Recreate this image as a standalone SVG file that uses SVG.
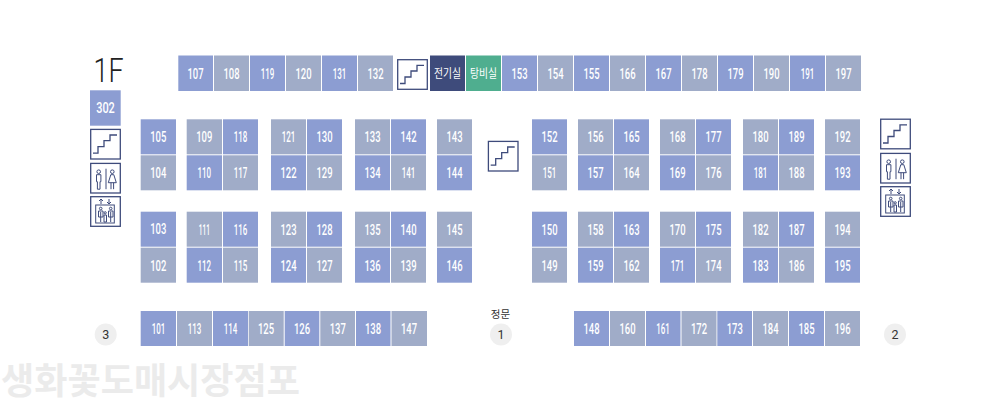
<svg xmlns="http://www.w3.org/2000/svg" width="1000" height="400" viewBox="0 0 1000 400">
<style>
text{font-family:Roboto,"Noto Sans CJK KR",sans-serif;text-anchor:middle}
.l{fill:#fff;font-size:14px;font-weight:500}
.k{fill:#fff;font-size:12px;font-family:"Noto Sans CJK KR",sans-serif}
.b{fill:#8c9dd2}.g{fill:#a0acc8}.d{fill:#3e4b7b}.t{fill:#4fae8f}
.i{fill:#fff;stroke:#3e4b7b;stroke-width:1.3}
.s{fill:none;stroke:#3e4b7b;stroke-width:1}
.n{fill:#efefef}
.m{fill:#333;font-size:12.500px}
.h{fill:#333;font-size:10.500px;font-family:"Noto Sans CJK KR",sans-serif}
</style>
<defs>
<g id="stair"><rect class="i" x=".7" y=".7" width="29.600" height="29.600"/><path class="s" style="stroke-width:1.300" d="M3 24.500H8V18H14V12H20V6.300H27"/></g>
<g id="wc"><rect class="i" x=".7" y=".7" width="29.600" height="29.600"/><path class="s" d="M16 6V26.500"/><circle class="s" cx="8.700" cy="9" r="1.800"/><path class="s" d="M6.500 12H10.900V19H10V26.500H7.400V19H6.500Z"/><circle class="s" cx="22.300" cy="9" r="1.800"/><path class="s" d="M20.800 12H23.800L26.300 20H18.300ZM21 20V26.500M23.600 20V26.500"/></g>
<g id="ev"><rect class="i" x=".7" y=".7" width="29.600" height="29.600"/><rect class="s" x="5.700" y="9" width="18.600" height="18"/><path class="s" d="M11 8V3M9 5L11 3L13 5M19 3V8M17 6L19 8L21 6M10.700 16V26M8.500 15H13V21H8.500ZM20.700 16V26M18.500 15H23V21H18.500ZM14 19H16.500V26H14Z"/><circle class="s" cx="10.700" cy="12.500" r="1.300"/><circle class="s" cx="15.200" cy="16.800" r="1.100"/><circle class="s" cx="20.700" cy="12.500" r="1.300"/></g>
</defs>
<text id="floor" x="108.500" y="81.500" textLength="30" lengthAdjust="spacingAndGlyphs" style="font-weight:300;font-size:34px;fill:#222">1F</text>
<g id="watermark"><text x="1" y="394" textLength="299" lengthAdjust="spacingAndGlyphs" style="text-anchor:start;font-family:'Noto Sans CJK KR',sans-serif;font-weight:700;font-size:36px;fill:#ebebeb">생화꽃도매시장점포</text></g>
<g id="cells">
<g id="r107"><rect class="b" x="178.300" y="55.500" width="34.700" height="35.500"/><text class="l" x="195.500" y="78.500" textLength="16.100" lengthAdjust="spacingAndGlyphs">107</text></g>
<g id="r108"><rect class="g" x="214" y="55.500" width="35" height="35.500"/><text class="l" x="231.500" y="78.500" textLength="16.100" lengthAdjust="spacingAndGlyphs">108</text></g>
<g id="r119"><rect class="b" x="250" y="55.500" width="35" height="35.500"/><text class="l" x="267.500" y="78.500" textLength="13.600" lengthAdjust="spacingAndGlyphs">119</text></g>
<g id="r120"><rect class="g" x="286" y="55.500" width="35" height="35.500"/><text class="l" x="303.500" y="78.500" textLength="16.100" lengthAdjust="spacingAndGlyphs">120</text></g>
<g id="r131"><rect class="b" x="322" y="55.500" width="35" height="35.500"/><text class="l" x="339.500" y="78.500" textLength="13.600" lengthAdjust="spacingAndGlyphs">131</text></g>
<g id="r132"><rect class="g" x="358" y="55.500" width="35" height="35.500"/><text class="l" x="375.500" y="78.500" textLength="16.100" lengthAdjust="spacingAndGlyphs">132</text></g>
<g id="r-elec"><rect class="d" x="430" y="55.500" width="35" height="35.500"/><text class="k" x="447.500" y="77.500" textLength="27" lengthAdjust="spacingAndGlyphs">전기실</text></g>
<g id="r-tea"><rect class="t" x="466" y="55.500" width="35" height="35.500"/><text class="k" x="483.500" y="77.500" textLength="27" lengthAdjust="spacingAndGlyphs">탕비실</text></g>
<g id="r153"><rect class="b" x="502" y="55.500" width="35" height="35.500"/><text class="l" x="519.500" y="78.500" textLength="16.100" lengthAdjust="spacingAndGlyphs">153</text></g>
<g id="r154"><rect class="g" x="538" y="55.500" width="35" height="35.500"/><text class="l" x="555.500" y="78.500" textLength="16.100" lengthAdjust="spacingAndGlyphs">154</text></g>
<g id="r155"><rect class="b" x="574" y="55.500" width="35" height="35.500"/><text class="l" x="591.500" y="78.500" textLength="16.100" lengthAdjust="spacingAndGlyphs">155</text></g>
<g id="r166"><rect class="g" x="610" y="55.500" width="35" height="35.500"/><text class="l" x="627.500" y="78.500" textLength="16.100" lengthAdjust="spacingAndGlyphs">166</text></g>
<g id="r167"><rect class="b" x="646" y="55.500" width="35" height="35.500"/><text class="l" x="663.500" y="78.500" textLength="16.100" lengthAdjust="spacingAndGlyphs">167</text></g>
<g id="r178"><rect class="g" x="682" y="55.500" width="35" height="35.500"/><text class="l" x="699.500" y="78.500" textLength="16.100" lengthAdjust="spacingAndGlyphs">178</text></g>
<g id="r179"><rect class="b" x="718" y="55.500" width="35" height="35.500"/><text class="l" x="735.500" y="78.500" textLength="16.100" lengthAdjust="spacingAndGlyphs">179</text></g>
<g id="r190"><rect class="g" x="754" y="55.500" width="35" height="35.500"/><text class="l" x="771.500" y="78.500" textLength="16.100" lengthAdjust="spacingAndGlyphs">190</text></g>
<g id="r191"><rect class="b" x="790" y="55.500" width="35" height="35.500"/><text class="l" x="807.500" y="78.500" textLength="13.600" lengthAdjust="spacingAndGlyphs">191</text></g>
<g id="r197"><rect class="g" x="826" y="55.500" width="35" height="35.500"/><text class="l" x="843.500" y="78.500" textLength="16.100" lengthAdjust="spacingAndGlyphs">197</text></g>
<g id="r302"><rect class="b" x="90" y="90.300" width="30.700" height="35.400"/><text class="l" x="105.500" y="112.500" textLength="18.600" lengthAdjust="spacingAndGlyphs">302</text></g>
<g id="r105"><rect class="b" x="140.700" y="119.300" width="35.300" height="35"/><text class="l" x="158.300" y="142" textLength="16.100" lengthAdjust="spacingAndGlyphs">105</text></g>
<g id="r104"><rect class="g" x="140.700" y="155.300" width="35.300" height="35"/><text class="l" x="158.300" y="178" textLength="16.100" lengthAdjust="spacingAndGlyphs">104</text></g>
<g id="r109"><rect class="g" x="186.700" y="119.300" width="35.300" height="35"/><text class="l" x="204.300" y="142" textLength="16.100" lengthAdjust="spacingAndGlyphs">109</text></g>
<g id="r118"><rect class="b" x="223" y="119.300" width="35" height="35"/><text class="l" x="240.500" y="142" textLength="13.600" lengthAdjust="spacingAndGlyphs">118</text></g>
<g id="r110"><rect class="b" x="186.700" y="155.300" width="35.300" height="35"/><text class="l" x="204.300" y="178" textLength="13.600" lengthAdjust="spacingAndGlyphs">110</text></g>
<g id="r117"><rect class="g" x="223" y="155.300" width="35" height="35"/><text class="l" x="240.500" y="178" textLength="13.600" lengthAdjust="spacingAndGlyphs">117</text></g>
<g id="r121"><rect class="g" x="271" y="119.300" width="35" height="35"/><text class="l" x="288.500" y="142" textLength="13.600" lengthAdjust="spacingAndGlyphs">121</text></g>
<g id="r130"><rect class="b" x="307" y="119.300" width="35" height="35"/><text class="l" x="324.500" y="142" textLength="16.100" lengthAdjust="spacingAndGlyphs">130</text></g>
<g id="r122"><rect class="b" x="271" y="155.300" width="35" height="35"/><text class="l" x="288.500" y="178" textLength="16.100" lengthAdjust="spacingAndGlyphs">122</text></g>
<g id="r129"><rect class="g" x="307" y="155.300" width="35" height="35"/><text class="l" x="324.500" y="178" textLength="16.100" lengthAdjust="spacingAndGlyphs">129</text></g>
<g id="r133"><rect class="g" x="355" y="119.300" width="35" height="35"/><text class="l" x="372.500" y="142" textLength="16.100" lengthAdjust="spacingAndGlyphs">133</text></g>
<g id="r142"><rect class="b" x="391" y="119.300" width="35" height="35"/><text class="l" x="408.500" y="142" textLength="16.100" lengthAdjust="spacingAndGlyphs">142</text></g>
<g id="r134"><rect class="b" x="355" y="155.300" width="35" height="35"/><text class="l" x="372.500" y="178" textLength="16.100" lengthAdjust="spacingAndGlyphs">134</text></g>
<g id="r141"><rect class="g" x="391" y="155.300" width="35" height="35"/><text class="l" x="408.500" y="178" textLength="13.600" lengthAdjust="spacingAndGlyphs">141</text></g>
<g id="r143"><rect class="g" x="437" y="119.300" width="35" height="35"/><text class="l" x="454.500" y="142" textLength="16.100" lengthAdjust="spacingAndGlyphs">143</text></g>
<g id="r144"><rect class="b" x="437" y="155.300" width="35" height="35"/><text class="l" x="454.500" y="178" textLength="16.100" lengthAdjust="spacingAndGlyphs">144</text></g>
<g id="r152"><rect class="b" x="532" y="119.300" width="35" height="35"/><text class="l" x="549.500" y="142" textLength="16.100" lengthAdjust="spacingAndGlyphs">152</text></g>
<g id="r151"><rect class="g" x="532" y="155.300" width="35" height="35"/><text class="l" x="549.500" y="178" textLength="13.600" lengthAdjust="spacingAndGlyphs">151</text></g>
<g id="r156"><rect class="g" x="578" y="119.300" width="35" height="35"/><text class="l" x="595.500" y="142" textLength="16.100" lengthAdjust="spacingAndGlyphs">156</text></g>
<g id="r165"><rect class="b" x="614" y="119.300" width="35" height="35"/><text class="l" x="631.500" y="142" textLength="16.100" lengthAdjust="spacingAndGlyphs">165</text></g>
<g id="r157"><rect class="b" x="578" y="155.300" width="35" height="35"/><text class="l" x="595.500" y="178" textLength="16.100" lengthAdjust="spacingAndGlyphs">157</text></g>
<g id="r164"><rect class="g" x="614" y="155.300" width="35" height="35"/><text class="l" x="631.500" y="178" textLength="16.100" lengthAdjust="spacingAndGlyphs">164</text></g>
<g id="r168"><rect class="g" x="660" y="119.300" width="35" height="35"/><text class="l" x="677.500" y="142" textLength="16.100" lengthAdjust="spacingAndGlyphs">168</text></g>
<g id="r177"><rect class="b" x="696" y="119.300" width="35" height="35"/><text class="l" x="713.500" y="142" textLength="16.100" lengthAdjust="spacingAndGlyphs">177</text></g>
<g id="r169"><rect class="b" x="660" y="155.300" width="35" height="35"/><text class="l" x="677.500" y="178" textLength="16.100" lengthAdjust="spacingAndGlyphs">169</text></g>
<g id="r176"><rect class="g" x="696" y="155.300" width="35" height="35"/><text class="l" x="713.500" y="178" textLength="16.100" lengthAdjust="spacingAndGlyphs">176</text></g>
<g id="r180"><rect class="g" x="743" y="119.300" width="35" height="35"/><text class="l" x="760.500" y="142" textLength="16.100" lengthAdjust="spacingAndGlyphs">180</text></g>
<g id="r189"><rect class="b" x="779" y="119.300" width="35" height="35"/><text class="l" x="796.500" y="142" textLength="16.100" lengthAdjust="spacingAndGlyphs">189</text></g>
<g id="r181"><rect class="b" x="743" y="155.300" width="35" height="35"/><text class="l" x="760.500" y="178" textLength="13.600" lengthAdjust="spacingAndGlyphs">181</text></g>
<g id="r188"><rect class="g" x="779" y="155.300" width="35" height="35"/><text class="l" x="796.500" y="178" textLength="16.100" lengthAdjust="spacingAndGlyphs">188</text></g>
<g id="r192"><rect class="g" x="825" y="119.300" width="35" height="35"/><text class="l" x="842.500" y="142" textLength="16.100" lengthAdjust="spacingAndGlyphs">192</text></g>
<g id="r193"><rect class="b" x="825" y="155.300" width="35" height="35"/><text class="l" x="842.500" y="178" textLength="16.100" lengthAdjust="spacingAndGlyphs">193</text></g>
<g id="r103"><rect class="b" x="140.700" y="211.700" width="35.300" height="35"/><text class="l" x="158.300" y="233.700" textLength="16.100" lengthAdjust="spacingAndGlyphs">103</text></g>
<g id="r102"><rect class="g" x="140.700" y="247.700" width="35.300" height="35"/><text class="l" x="158.300" y="270.700" textLength="16.100" lengthAdjust="spacingAndGlyphs">102</text></g>
<g id="r111"><rect class="g" x="186.700" y="211.700" width="35.300" height="35"/><text class="l" x="204.300" y="234.500" textLength="11.100" lengthAdjust="spacingAndGlyphs">111</text></g>
<g id="r116"><rect class="b" x="223" y="211.700" width="35" height="35"/><text class="l" x="240.500" y="234.500" textLength="13.600" lengthAdjust="spacingAndGlyphs">116</text></g>
<g id="r112"><rect class="b" x="186.700" y="247.700" width="35.300" height="35"/><text class="l" x="204.300" y="270.700" textLength="13.600" lengthAdjust="spacingAndGlyphs">112</text></g>
<g id="r115"><rect class="g" x="223" y="247.700" width="35" height="35"/><text class="l" x="240.500" y="270.700" textLength="13.600" lengthAdjust="spacingAndGlyphs">115</text></g>
<g id="r123"><rect class="g" x="271" y="211.700" width="35" height="35"/><text class="l" x="288.500" y="234.500" textLength="16.100" lengthAdjust="spacingAndGlyphs">123</text></g>
<g id="r128"><rect class="b" x="307" y="211.700" width="35" height="35"/><text class="l" x="324.500" y="234.500" textLength="16.100" lengthAdjust="spacingAndGlyphs">128</text></g>
<g id="r124"><rect class="b" x="271" y="247.700" width="35" height="35"/><text class="l" x="288.500" y="270.700" textLength="16.100" lengthAdjust="spacingAndGlyphs">124</text></g>
<g id="r127"><rect class="g" x="307" y="247.700" width="35" height="35"/><text class="l" x="324.500" y="270.700" textLength="16.100" lengthAdjust="spacingAndGlyphs">127</text></g>
<g id="r135"><rect class="g" x="355" y="211.700" width="35" height="35"/><text class="l" x="372.500" y="234.500" textLength="16.100" lengthAdjust="spacingAndGlyphs">135</text></g>
<g id="r140"><rect class="b" x="391" y="211.700" width="35" height="35"/><text class="l" x="408.500" y="234.500" textLength="16.100" lengthAdjust="spacingAndGlyphs">140</text></g>
<g id="r136"><rect class="b" x="355" y="247.700" width="35" height="35"/><text class="l" x="372.500" y="270.700" textLength="16.100" lengthAdjust="spacingAndGlyphs">136</text></g>
<g id="r139"><rect class="g" x="391" y="247.700" width="35" height="35"/><text class="l" x="408.500" y="270.700" textLength="16.100" lengthAdjust="spacingAndGlyphs">139</text></g>
<g id="r145"><rect class="g" x="437" y="211.700" width="35" height="35"/><text class="l" x="454.500" y="234.500" textLength="16.100" lengthAdjust="spacingAndGlyphs">145</text></g>
<g id="r146"><rect class="b" x="437" y="247.700" width="35" height="35"/><text class="l" x="454.500" y="270.700" textLength="16.100" lengthAdjust="spacingAndGlyphs">146</text></g>
<g id="r150"><rect class="b" x="532" y="211.700" width="35" height="35"/><text class="l" x="549.500" y="234.500" textLength="16.100" lengthAdjust="spacingAndGlyphs">150</text></g>
<g id="r149"><rect class="g" x="532" y="247.700" width="35" height="35"/><text class="l" x="549.500" y="270.700" textLength="16.100" lengthAdjust="spacingAndGlyphs">149</text></g>
<g id="r158"><rect class="g" x="578" y="211.700" width="35" height="35"/><text class="l" x="595.500" y="234.500" textLength="16.100" lengthAdjust="spacingAndGlyphs">158</text></g>
<g id="r163"><rect class="b" x="614" y="211.700" width="35" height="35"/><text class="l" x="631.500" y="234.500" textLength="16.100" lengthAdjust="spacingAndGlyphs">163</text></g>
<g id="r159"><rect class="b" x="578" y="247.700" width="35" height="35"/><text class="l" x="595.500" y="270.700" textLength="16.100" lengthAdjust="spacingAndGlyphs">159</text></g>
<g id="r162"><rect class="g" x="614" y="247.700" width="35" height="35"/><text class="l" x="631.500" y="270.700" textLength="16.100" lengthAdjust="spacingAndGlyphs">162</text></g>
<g id="r170"><rect class="g" x="660" y="211.700" width="35" height="35"/><text class="l" x="677.500" y="234.500" textLength="16.100" lengthAdjust="spacingAndGlyphs">170</text></g>
<g id="r175"><rect class="b" x="696" y="211.700" width="35" height="35"/><text class="l" x="713.500" y="234.500" textLength="16.100" lengthAdjust="spacingAndGlyphs">175</text></g>
<g id="r171"><rect class="b" x="660" y="247.700" width="35" height="35"/><text class="l" x="677.500" y="270.700" textLength="13.600" lengthAdjust="spacingAndGlyphs">171</text></g>
<g id="r174"><rect class="g" x="696" y="247.700" width="35" height="35"/><text class="l" x="713.500" y="270.700" textLength="16.100" lengthAdjust="spacingAndGlyphs">174</text></g>
<g id="r182"><rect class="g" x="743" y="211.700" width="35" height="35"/><text class="l" x="760.500" y="234.500" textLength="16.100" lengthAdjust="spacingAndGlyphs">182</text></g>
<g id="r187"><rect class="b" x="779" y="211.700" width="35" height="35"/><text class="l" x="796.500" y="234.500" textLength="16.100" lengthAdjust="spacingAndGlyphs">187</text></g>
<g id="r183"><rect class="b" x="743" y="247.700" width="35" height="35"/><text class="l" x="760.500" y="270.700" textLength="16.100" lengthAdjust="spacingAndGlyphs">183</text></g>
<g id="r186"><rect class="g" x="779" y="247.700" width="35" height="35"/><text class="l" x="796.500" y="270.700" textLength="16.100" lengthAdjust="spacingAndGlyphs">186</text></g>
<g id="r194"><rect class="g" x="825" y="211.700" width="35" height="35"/><text class="l" x="842.500" y="234.500" textLength="16.100" lengthAdjust="spacingAndGlyphs">194</text></g>
<g id="r195"><rect class="b" x="825" y="247.700" width="35" height="35"/><text class="l" x="842.500" y="270.700" textLength="16.100" lengthAdjust="spacingAndGlyphs">195</text></g>
<g id="r101"><rect class="b" x="140.700" y="311" width="35.300" height="35"/><text class="l" x="158.500" y="333.500" textLength="13.600" lengthAdjust="spacingAndGlyphs">101</text></g>
<g id="r113"><rect class="g" x="177" y="311" width="35" height="35"/><text class="l" x="194.500" y="333.500" textLength="13.600" lengthAdjust="spacingAndGlyphs">113</text></g>
<g id="r114"><rect class="b" x="213" y="311" width="35" height="35"/><text class="l" x="230.500" y="333.500" textLength="13.600" lengthAdjust="spacingAndGlyphs">114</text></g>
<g id="r125"><rect class="g" x="248.700" y="311" width="35" height="35"/><text class="l" x="266" y="333.500" textLength="16.100" lengthAdjust="spacingAndGlyphs">125</text></g>
<g id="r126"><rect class="b" x="284.700" y="311" width="34.600" height="35"/><text class="l" x="302" y="333.500" textLength="16.100" lengthAdjust="spacingAndGlyphs">126</text></g>
<g id="r137"><rect class="g" x="320.300" y="311" width="34.700" height="35"/><text class="l" x="337.700" y="333.500" textLength="16.100" lengthAdjust="spacingAndGlyphs">137</text></g>
<g id="r138"><rect class="b" x="356" y="311" width="34.500" height="35"/><text class="l" x="373" y="333.500" textLength="16.100" lengthAdjust="spacingAndGlyphs">138</text></g>
<g id="r147"><rect class="g" x="391.500" y="311" width="35.500" height="35"/><text class="l" x="409" y="333.500" textLength="16.100" lengthAdjust="spacingAndGlyphs">147</text></g>
<g id="r148"><rect class="b" x="574" y="311" width="35" height="35"/><text class="l" x="591.500" y="333.500" textLength="16.100" lengthAdjust="spacingAndGlyphs">148</text></g>
<g id="r160"><rect class="g" x="610" y="311" width="35" height="35"/><text class="l" x="627.500" y="333.500" textLength="16.100" lengthAdjust="spacingAndGlyphs">160</text></g>
<g id="r161"><rect class="b" x="646" y="311" width="34.500" height="35"/><text class="l" x="663" y="333.500" textLength="13.600" lengthAdjust="spacingAndGlyphs">161</text></g>
<g id="r172"><rect class="g" x="681.500" y="311" width="35" height="35"/><text class="l" x="699" y="333.500" textLength="16.100" lengthAdjust="spacingAndGlyphs">172</text></g>
<g id="r173"><rect class="b" x="717.300" y="311" width="34.700" height="35"/><text class="l" x="734.700" y="333.500" textLength="16.100" lengthAdjust="spacingAndGlyphs">173</text></g>
<g id="r184"><rect class="g" x="753" y="311" width="35" height="35"/><text class="l" x="770.500" y="333.500" textLength="16.100" lengthAdjust="spacingAndGlyphs">184</text></g>
<g id="r185"><rect class="b" x="789" y="311" width="35" height="35"/><text class="l" x="806.500" y="333.500" textLength="16.100" lengthAdjust="spacingAndGlyphs">185</text></g>
<g id="r196"><rect class="g" x="825" y="311" width="35" height="35"/><text class="l" x="842.500" y="333.500" textLength="16.100" lengthAdjust="spacingAndGlyphs">196</text></g>
</g>
<g id="icons">
<use href="#stair" x="90" y="128.700"/><use href="#wc" x="90" y="162.700"/><use href="#ev" x="90" y="196"/>
<use href="#stair" x="397" y="59"/><use href="#stair" x="487.700" y="140.700"/>
<use href="#stair" x="880" y="118.500"/><use href="#wc" x="880" y="152.700"/><use href="#ev" x="880" y="186"/>
</g>
<g id="gates">
<g id="gate3"><circle class="n" cx="105.700" cy="334.500" r="11"/><text class="m" x="105.700" y="339">3</text></g>
<g id="gate1"><text class="h" x="500.500" y="317.500">정문</text><circle class="n" cx="501" cy="334.500" r="11"/><text class="m" x="501" y="339">1</text></g>
<g id="gate2"><circle class="n" cx="895" cy="334.500" r="11"/><text class="m" x="895" y="339">2</text></g>
</g>
<g id="connectors"/>
</svg>
